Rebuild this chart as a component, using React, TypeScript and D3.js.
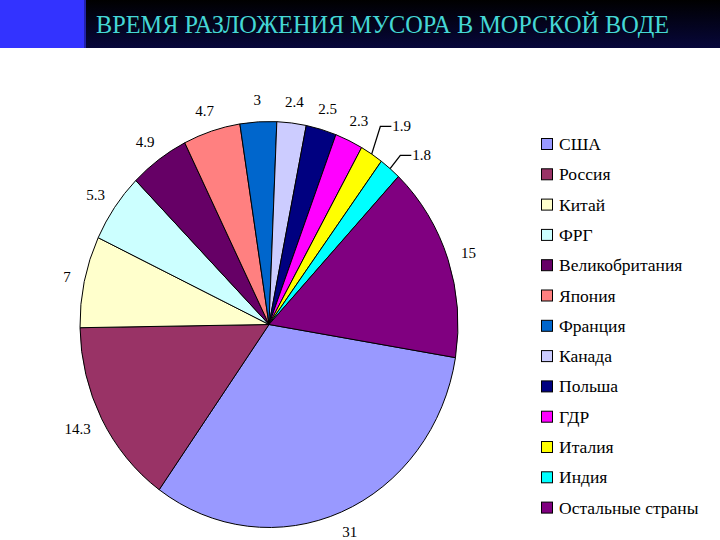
import React from "react";
import * as d3 from "d3";

const countries = [
  "США",
  "Россия",
  "Китай",
  "ФРГ",
  "Великобритания",
  "Япония",
  "Франция",
  "Канада",
  "Польша",
  "ГДР",
  "Италия",
  "Индия",
  "Остальные страны",
];
const years = [31, 14.3, 7, 5.3, 4.9, 4.7, 3, 2.4, 2.5, 2.3, 1.9, 1.8, 15];
const colors = [
  "#9999FF",
  "#993366",
  "#FFFFCC",
  "#CCFFFF",
  "#660066",
  "#FF8080",
  "#0066CC",
  "#CCCCFF",
  "#000080",
  "#FF00FF",
  "#FFFF00",
  "#00FFFF",
  "#800080",
];
const title = "ВРЕМЯ РАЗЛОЖЕНИЯ МУСОРА В МОРСКОЙ ВОДЕ";

const width = 720,
  height = 540;
const cx = 269,
  cy = 324.5,
  rx = 189,
  ry = 203;
const ky = ry / rx;
const startDeg = 99.4;
const labelFont = 15;
const leaderMin = 2; // slices below this get a leader line
const serif = "Liberation Serif";

// rough Times width of a number label
const textW = (s: string) =>
  s.split("").reduce((w, c) => w + (c === "." ? 0.25 : 0.5), 0) * labelFont;

const App = () => {
  const start = (startDeg * Math.PI) / 180;
  const pie = d3
    .pie<number>()
    .sort(null)
    .value((d) => d)
    .startAngle(start)
    .endAngle(start + 2 * Math.PI);
  const arcs = pie(years);
  const arc = d3.arc<d3.PieArcDatum<number>>().innerRadius(0).outerRadius(rx);

  const gap = 14;
  const plain = arcs
    .map((a, i) => ({ a, i }))
    .filter(({ a }) => a.data >= leaderMin)
    .map(({ a, i }) => {
      const m = (a.startAngle + a.endAngle) / 2;
      const s = Math.sin(m),
        c = Math.cos(m);
      const t = String(a.data);
      return {
        i,
        t,
        x: cx + s * (rx + gap) + (s * textW(t)) / 2,
        y: cy - c * (ry + gap * ky) - (c * 13) / 2,
      };
    });

  // leader labels, pushed apart from the last one backwards
  const small = arcs
    .map((a, i) => ({ a, i }))
    .filter(({ a }) => a.data < leaderMin)
    .map(({ a, i }) => {
      const m = (a.startAngle + a.endAngle) / 2;
      const s = Math.sin(m),
        c = Math.cos(m);
      return {
        i,
        t: String(a.data),
        x0: cx + s * rx,
        y0: cy - c * ry,
        ex: cx + s * (rx + 16),
        ey: cy - c * (ry + 16 * ky),
      };
    });
  for (let k = small.length - 2; k >= 0; k--) {
    small[k].ey = Math.min(small[k].ey, small[k + 1].ey - 29);
  }

  return (
    <svg
      width={width}
      height={height}
      fontFamily={serif}
      style={{ position: "absolute", left: 0, top: 0, background: "#fff" }}
    >
      <defs>
        <linearGradient id="bar" x1="0" y1="0" x2="0" y2="1">
          <stop offset="0" stopColor="#000000" />
          <stop offset="1" stopColor="#07073a" />
        </linearGradient>
      </defs>
      <rect x={0} y={0} width={width} height={48} fill="url(#bar)" />
      <rect x={0} y={0} width={84} height={48} fill="#3333FF" />
      <rect x={84} y={0} width={2} height={48} fill="#2222aa" />
      <text x={97} y={34} fontSize={24.3} fill="#001010" opacity={0.6}>
        {title}
      </text>
      <text x={96} y={33} fontSize={24.3} fill="#45D6D6">
        {title}
      </text>

      <g transform={`translate(${cx},${cy}) scale(1,${ky})`}>
        {arcs.map((a, i) => (
          <path
            key={countries[i]}
            d={arc(a) || ""}
            fill={colors[i]}
            stroke="#000"
            strokeWidth={1}
            vectorEffect="non-scaling-stroke"
          />
        ))}
      </g>

      <g fontSize={labelFont} fill="#000">
        {plain.map((l) => (
          <text
            key={l.i}
            x={l.x}
            y={l.y}
            textAnchor="middle"
            dominantBaseline="central"
          >
            {l.t}
          </text>
        ))}
        {small.map((l) => (
          <g key={l.i}>
            <polyline
              points={`${l.x0},${l.y0} ${l.ex},${l.ey} ${l.ex + 11},${l.ey}`}
              fill="none"
              stroke="#000"
              strokeWidth={1.3}
            />
            <text x={l.ex + 12} y={l.ey} dominantBaseline="central">
              {l.t}
            </text>
          </g>
        ))}
      </g>

      <g>
        {countries.map((name, i) => {
          const y = 144 + i * 30.3;
          return (
            <g key={name}>
              <rect
                x={541.5}
                y={y - 5.5}
                width={11}
                height={11}
                fill={colors[i]}
                stroke="#000"
                strokeWidth={1}
              />
              <text x={559} y={y + 6} fontSize={17.5} fill="#000">
                {name}
              </text>
            </g>
          );
        })}
      </g>
    </svg>
  );
};

export default App;
